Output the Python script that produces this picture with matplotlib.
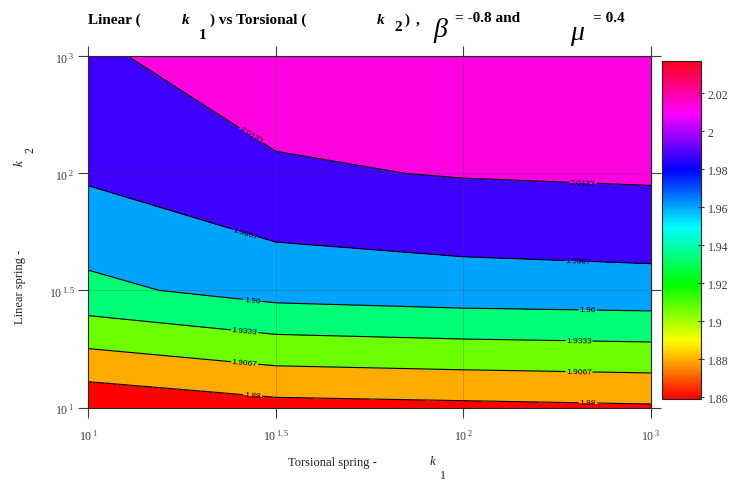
import numpy as np
import matplotlib
matplotlib.use("Agg")
import matplotlib.pyplot as plt
from matplotlib.colors import Normalize
from matplotlib.cm import ScalarMappable

plt.rcParams["font.family"] = ["Liberation Serif", "DejaVu Serif"]
plt.rcParams["mathtext.fontset"] = "custom"
plt.rcParams["mathtext.rm"] = "Liberation Serif"
plt.rcParams["mathtext.it"] = "Liberation Serif:italic"
plt.rcParams["mathtext.bf"] = "Liberation Serif:bold"

# Stiffness grid (decade exponents shown on the axes)
k1_exponents = ["1", "1.5", "2", "3"]
k2_exponents = ["1", "1.5", "2", "3"]
k1_values = [10.0, 31.62, 100.0, 1000.0]
k2_values = [10.0, 31.62, 100.0, 1000.0]

# Response on the grid: one row per k2 value, columns follow k1
z_k2_10 = [1.8592, 1.8714, 1.8741, 1.8770]
z_k2_31 = [1.9536, 1.9705, 1.9753, 1.9776]
z_k2_100 = [1.9906, 2.0097, 2.0149, 2.0174]
z_k2_1000 = [2.0091, 2.0288, 2.0330, 2.0370]

contour_levels = [1.88, 1.9067, 1.9333, 1.96, 1.9867, 2.0133]
colorbar_ticks = [1.86, 1.88, 1.90, 1.92, 1.94, 1.96, 1.98, 2.00, 2.02]

W, H = 742, 481
fig = plt.figure(figsize=(W / 100, H / 100), dpi=100)


def fx(x):
    return x / W


def fy(y):
    return 1 - y / H


ax = fig.add_axes([fx(88.3), fy(408.5), (650.8 - 88.3) / W, (408.5 - 57.3) / H])

xi = np.arange(len(k1_values))
yi = np.arange(len(k2_values))
Z = np.array([z_k2_10, z_k2_31, z_k2_100, z_k2_1000])

zmin, zmax = Z.min(), Z.max()
norm = Normalize(zmin, zmax)
cmap = plt.get_cmap("hsv")
bounds = [zmin] + contour_levels + [zmax]
band_colors = [cmap(norm(b)) for b in bounds[:-1]]

ax.contourf(xi, yi, Z, levels=bounds, colors=band_colors)
cs = ax.contour(xi, yi, Z, levels=contour_levels, colors="k", linewidths=0.8)

# label anchor spots (index coordinates), two per level
label_spots = [
    (0.877, 2.353), (2.638, 1.952),
    (0.841, 1.525), (2.612, 1.286),
    (0.877, 0.944), (2.665, 0.867),
    (0.836, 0.688), (2.617, 0.602),
    (0.836, 0.414), (2.617, 0.337),
    (0.877, 0.132), (2.665, 0.081),
]
labels = ax.clabel(cs, fmt="%g", fontsize=6, manual=label_spots,
                   inline=True, inline_spacing=2, colors="k")
for t in labels:
    t.set_fontfamily("Liberation Sans")

ax.set_xlim(xi[0], xi[-1])
ax.set_ylim(yi[0], yi[-1])
ax.set_xticks(xi)
ax.set_yticks(yi)
ax.set_xticklabels([r"$\mathregular{10^{\ %s}}$" % e for e in k1_exponents])
ax.set_yticklabels([r"$\mathregular{10^{\ %s}}$" % e for e in k2_exponents])
ax.tick_params(axis="both", direction="out", length=7, width=0.8,
               top=True, right=True, labelsize=8.5, colors="#3a3a3a",
               labelcolor="#3a3a3a")
ax.tick_params(axis="x", pad=8)
ax.tick_params(axis="y", pad=3)
ax.grid(True, color="#444444", alpha=0.25, linewidth=0.7)
ax.set_axisbelow(False)
for s in ax.spines.values():
    s.set_color("#222222")
    s.set_linewidth(0.8)

# colour bar
cax = fig.add_axes([fx(661.7), fy(400), 39 / W, (400 - 61.7) / H])
cb = fig.colorbar(ScalarMappable(norm=norm, cmap=cmap), cax=cax,
                  ticks=colorbar_ticks, format="%g")
cb.ax.tick_params(direction="inout", length=4, width=0.8, labelsize=8.5,
                  colors="#3a3a3a", labelcolor="#3a3a3a", pad=3)
cb.outline.set_edgecolor("#222222")
cb.outline.set_linewidth(0.8)

# title assembled piece by piece
tb = dict(fontsize=11, fontweight="bold", va="baseline", ha="left")
fig.text(fx(88), fy(24), "Linear (", **tb)
fig.text(fx(182), fy(24), "k", style="italic", **tb)
fig.text(fx(199), fy(39), "1", **tb)
fig.text(fx(210), fy(24), ") vs Torsional (", **tb)
fig.text(fx(377), fy(24), "k", style="italic", **tb)
fig.text(fx(394), fy(31), "2", **tb)
fig.text(fx(404), fy(24), ")", **tb)
fig.text(fx(416), fy(24), ",", **tb)
fig.text(fx(433), fy(37), "β", fontsize=20, style="italic", va="baseline", ha="left")
fig.text(fx(455), fy(22), "= -0.8 and", **tb)
fig.text(fx(570), fy(40), "μ", fontsize=20, style="italic", va="baseline", ha="left")
fig.text(fx(593), fy(22), "= 0.4", **tb)

# axis titles
fig.text(fx(20), fy(287), "Linear spring -", fontsize=9, rotation=90,
         ha="center", va="center", color="#222222")
fig.text(fx(20), fy(163), "k", fontsize=9.5, style="italic", rotation=90,
         ha="center", va="center", color="#222222")
fig.text(fx(30), fy(150), "2", fontsize=8.5, rotation=90,
         ha="center", va="center", color="#222222")

fig.text(fx(332), fy(463), "Torsional spring -", fontsize=9,
         ha="center", va="center", color="#222222")
fig.text(fx(433), fy(462), "k", fontsize=9.5, style="italic",
         ha="center", va="center", color="#222222")
fig.text(fx(443), fy(476), "1", fontsize=8.5,
         ha="center", va="center", color="#222222")

fig.savefig("out.png", dpi=100)
